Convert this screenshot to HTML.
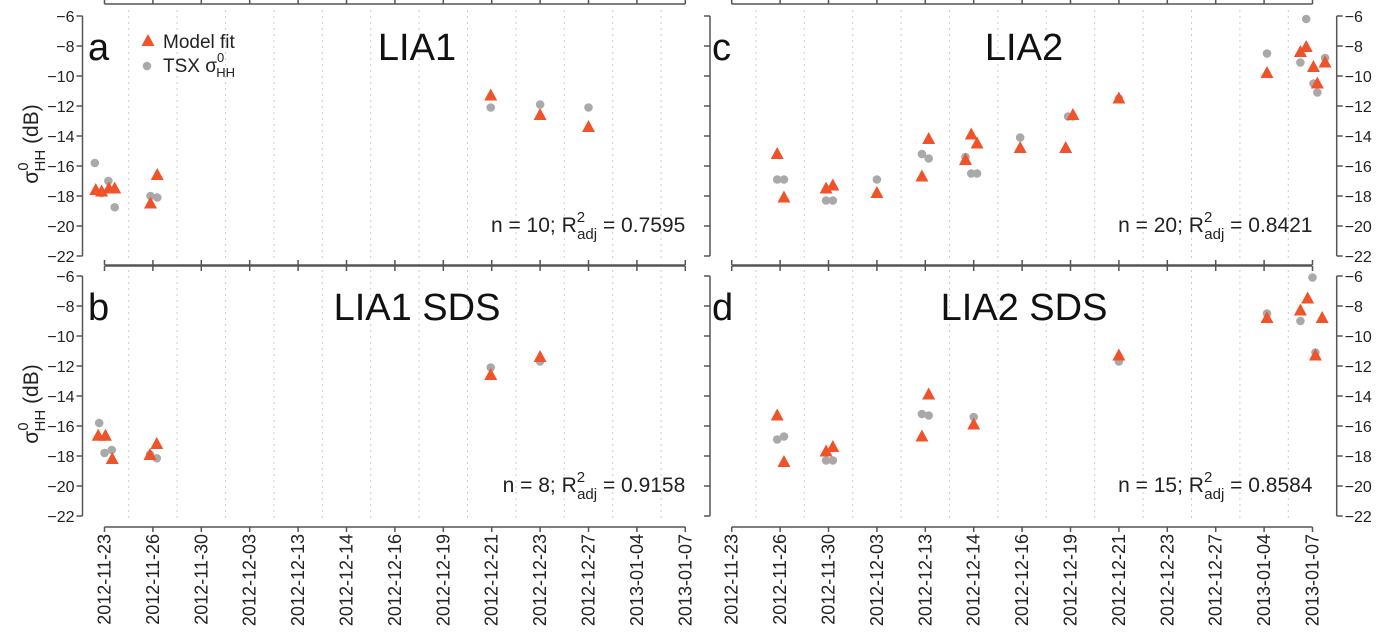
<!DOCTYPE html>
<html><head><meta charset="utf-8"><style>
html,body{margin:0;padding:0;background:#fff}
svg{display:block;font-family:"Liberation Sans",Arial,sans-serif}
</style></head><body>
<svg id="chart" width="1400" height="635" viewBox="0 0 1400 635" xmlns="http://www.w3.org/2000/svg"></svg>
<script>
const dates=["2012-11-23","2012-11-26","2012-11-30","2012-12-03","2012-12-13","2012-12-14","2012-12-16","2012-12-19","2012-12-21","2012-12-23","2012-12-27","2013-01-04","2013-01-07"];
const yTicks=[-6,-8,-10,-12,-14,-16,-18,-20,-22];
// panel a
const aModelX=[-0.18,-0.06,0.09,0.21,0.95,1.09,7.98,9.0,10.0];
const aModelY=[-17.6,-17.7,-17.5,-17.5,-18.5,-16.6,-11.3,-12.6,-13.4];
const aTsxX=[-0.2,-0.06,0.08,0.21,0.95,1.09,7.98,9.0,10.0];
const aTsxY=[-15.8,-17.8,-17.0,-18.75,-18.0,-18.1,-12.1,-11.9,-12.1];
// panel b
const bModelX=[-0.13,0.02,0.16,0.94,1.08,7.98,9.0];
const bModelY=[-16.65,-16.65,-18.2,-17.93,-17.2,-12.6,-11.4];
const bTsxX=[-0.11,0.0,0.15,0.94,1.08,7.98,9.0];
const bTsxY=[-15.8,-17.8,-17.6,-17.9,-18.15,-12.1,-11.7];
// panel c
const cModelX=[0.94,1.08,1.95,2.09,3.0,3.93,4.07,4.83,4.95,5.07,5.96,6.9,7.05,8.0,11.06,11.75,11.87,12.02,12.1,12.26];
const cModelY=[-15.2,-18.1,-17.5,-17.3,-17.8,-16.7,-14.2,-15.6,-13.9,-14.5,-14.8,-14.8,-12.6,-11.5,-9.8,-8.4,-8.07,-9.4,-10.5,-9.1];
const cTsxX=[0.94,1.08,1.95,2.09,3.0,3.93,4.07,4.83,4.95,5.07,5.96,6.95,7.05,8.0,11.06,11.75,11.87,12.02,12.1,12.26];
const cTsxY=[-16.9,-16.9,-18.3,-18.3,-16.9,-15.2,-15.5,-15.4,-16.5,-16.5,-14.1,-12.7,-12.7,-11.5,-8.5,-9.1,-6.2,-10.5,-11.1,-8.8];
// panel d
const dModelX=[0.94,1.08,1.95,2.09,3.93,4.07,5.0,8.0,11.06,11.75,11.9,12.06,12.2];
const dModelY=[-15.3,-18.4,-17.7,-17.4,-16.7,-13.9,-15.9,-11.3,-8.8,-8.3,-7.5,-11.3,-8.8];
const dTsxX=[0.94,1.08,1.95,2.09,3.93,4.07,5.0,8.0,11.06,11.75,12.0,12.06];
const dTsxY=[-16.9,-16.7,-18.3,-18.3,-15.2,-15.3,-15.4,-11.7,-8.5,-9.0,-6.1,-11.1];

const NS="http://www.w3.org/2000/svg";
const svg=document.getElementById('chart');
function mk(tag,attrs,parent,text){const e=document.createElementNS(NS,tag);for(const k in attrs)e.setAttribute(k,attrs[k]);if(text!==undefined)e.textContent=text;(parent||svg).appendChild(e);return e;}
const AX='#555';
const panels=[
 {id:'a',title:'LIA1',x0:104.5,top:16,side:'left',mX:aModelX,mY:aModelY,tX:aTsxX,tY:aTsxY,n:'10',r:'0.7595',legend:true,topAxis:4,botAxis:266},
 {id:'b',title:'LIA1 SDS',x0:104.5,top:276,side:'left',mX:bModelX,mY:bModelY,tX:bTsxX,tY:bTsxY,n:'8',r:'0.9158',topAxis:265,botAxis:527,labels:true},
 {id:'c',title:'LIA2',x0:731.7,top:16,side:'right',mX:cModelX,mY:cModelY,tX:cTsxX,tY:cTsxY,n:'20',r:'0.8421',topAxis:4,botAxis:266},
 {id:'d',title:'LIA2 SDS',x0:731.7,top:276,side:'right',mX:dModelX,mY:dModelY,tX:dTsxX,tY:dTsxY,n:'15',r:'0.8584',topAxis:265,botAxis:527,labels:true}
];
const step=48.4;
panels.forEach(p=>{
 const g=mk('g',{});
 
 
 const xs=i=>p.x0+i*step;
 const ys=v=>p.top+(-6-v)*15;
 const x1=xs(dates.length-1);
 for(let i=0;i<dates.length-1;i++){
  const gx=xs(i+0.5);
  const l=mk('line',{x1:gx,x2:gx,y1:p.top-6,y2:p.top+246,stroke:'#ccc','stroke-width':1,'stroke-dasharray':'2,4'},g);
  
  
 }
 [p.topAxis,p.botAxis].forEach((ay,k)=>{
  const ax=mk('g',{},g);
  
  
  mk('line',{x1:xs(0),x2:x1,y1:ay,y2:ay,stroke:AX,'stroke-width':1.5},ax);
  dates.forEach((d,i)=>{
   const tx=xs(i);
   mk('line',{x1:tx,x2:tx,y1:k===0?ay-5:ay,y2:k===0?ay:ay+5,stroke:AX,'stroke-width':1.5},ax);
   if(k===1&&p.labels){
    const t=mk('text',{x:0,y:0,transform:`translate(${tx+6},534) rotate(-90)`,'text-anchor':'end','font-size':18,fill:'#222'},ax,d);
    
    
   }
  });
 });
 const yax=mk('g',{},g);
 
 
 const leftX=p.side==='left'?82.5:710;
 mk('line',{x1:leftX,x2:leftX,y1:ys(-6),y2:ys(-22),stroke:AX,'stroke-width':1.5},yax);
 yTicks.forEach(v=>{
  mk('line',{x1:leftX-6,x2:leftX,y1:ys(v),y2:ys(v),stroke:AX,'stroke-width':1.5},yax);
  if(p.side==='left'){
   const t=mk('text',{x:leftX-8,y:ys(v)+6,'text-anchor':'end','font-size':16,fill:'#222'},yax,'\u2212'+(-v));
   
   
  }
 });
 if(p.side==='right'){
  const rx=1336.7;
  mk('line',{x1:rx,x2:rx,y1:ys(-6),y2:ys(-22),stroke:AX,'stroke-width':1.5},yax);
  yTicks.forEach(v=>{
   mk('line',{x1:rx,x2:rx+6,y1:ys(v),y2:ys(v),stroke:AX,'stroke-width':1.5},yax);
   const t=mk('text',{x:rx+8,y:ys(v)+6,'text-anchor':'start','font-size':16,fill:'#222'},yax,'\u2212'+(-v));
   
   
  });
 } else {
  const yt=mk('text',{transform:`translate(38,${p.top+128}) rotate(-90)`,'text-anchor':'middle','font-size':21,fill:'#222'},g);
  
  
  mk('tspan',{},yt,'\u03c3');
  mk('tspan',{'font-size':15,dy:-10},yt,'0');
  mk('tspan',{'font-size':15,dy:17,dx:-9},yt,'HH');
  mk('tspan',{dy:-7},yt,' (dB)');
 }
 const lx=p.side==='left'?88:712;
 const lt=mk('text',{x:lx,y:p.top+44,'font-size':38,fill:'#111'},g,p.id);
 
 
 const tcx=p.side==='left'?417:1024;
 const tt=mk('text',{x:tcx,y:p.top+44,'font-size':38,'text-anchor':'middle',fill:'#111'},g,p.title);
 
 
 const st=mk('text',{x:x1,y:p.top+216,'font-size':21,'text-anchor':'end',fill:'#222'},g);
 
 
 mk('tspan',{},st,'n = '+p.n+'; R');
 mk('tspan',{'font-size':15,dy:-10},st,'2');
 mk('tspan',{'font-size':15,dy:17,dx:-8},st,'adj');
 mk('tspan',{dy:-7},st,' = '+p.r);
 p.tX.forEach((xv,i)=>{
  const c=mk('circle',{cx:xs(xv),cy:ys(p.tY[i]),r:4.3,fill:'#a9a9a9'},g);
  
  
 });
 p.mX.forEach((xv,i)=>{
  const cx=xs(xv),cy=ys(p.mY[i]);
  const t=mk('polygon',{points:`${cx},${cy-7} ${cx-6.5},${cy+5} ${cx+6.5},${cy+5}`,fill:'#f0522a'},g);
  
  
 });
 if(p.legend){
  const lg=mk('g',{},g);
  
  
  mk('polygon',{points:'148,34 141.5,46 154.5,46',fill:'#f0522a'},lg);
  mk('text',{x:163,y:48,'font-size':19,fill:'#222'},lg,'Model fit');
  mk('circle',{cx:147,cy:66,r:4.3,fill:'#a9a9a9'},lg);
  const t2=mk('text',{x:163,y:72,'font-size':19,fill:'#222'},lg);
  mk('tspan',{},t2,'TSX \u03c3');
  mk('tspan',{'font-size':13,dy:-10},t2,'0');
  mk('tspan',{'font-size':13,dy:15,dx:-8},t2,'HH');
 }
});
</script>
</body></html>
